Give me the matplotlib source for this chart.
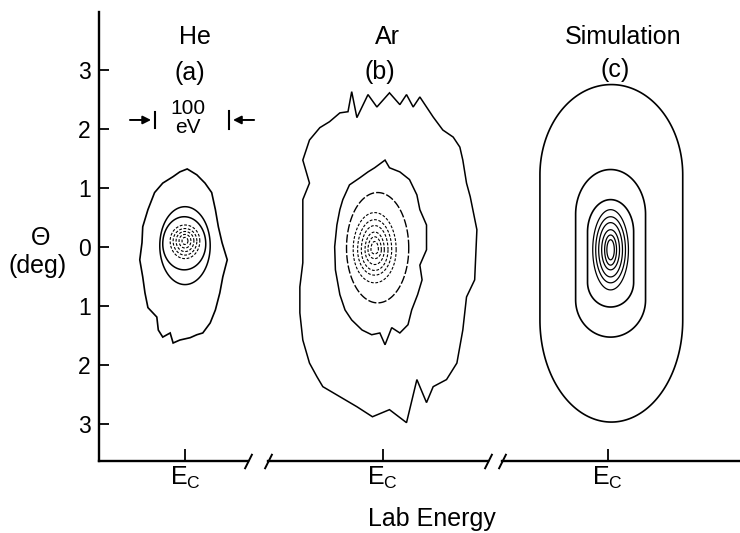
import numpy as np
import matplotlib
matplotlib.use('Agg')
import matplotlib.pyplot as plt

plt.rcParams['font.family'] = ['Liberation Sans', 'DejaVu Sans']

# ==================== data (energy in eV from E_C, angle in deg) ====================
# He, outer jagged contour
he_outer_E = [3, 16, 27, 36, 41, 45, 50, 57, 51, 47, 41, 34, 24, 16, 7, -7, -16, -20,
              -30, -36, -38, -50, -54, -57, -61, -58, -57, -50, -41, -30, -16, -7]
he_outer_th = [1.32, 1.22, 1.08, 0.92, 0.63, 0.34, 0.07, -0.22, -0.51, -0.78, -1.07, -1.29,
               -1.46, -1.49, -1.54, -1.58, -1.63, -1.46, -1.53, -1.41, -1.19, -1.03, -0.78,
               -0.51, -0.22, 0.07, 0.34, 0.63, 0.92, 1.08, 1.19, 1.27]
# rings: centre E, half width, top, top of side, bottom of side, bottom
he_rings = [(0, 34, 0.68, 0.02, 0.02, -0.64),
            (-1, 29, 0.51, 0.05, 0.05, -0.39)]
he_core = [(0, 20, 0.37, 0.10, 0.10, -0.20),
           (0, 16, 0.31, 0.10, 0.10, -0.14),
           (0, 12, 0.26, 0.10, 0.10, -0.08),
           (0, 8, 0.21, 0.10, 0.10, -0.02),
           (0, 4, 0.16, 0.10, 0.10, 0.04)]

# Ar, outer and second contours
ar_outer_E = [-99, -85, -72, -58, -47, -42, -35, -20, -8, 9, 23, 32, 41, 50, 59, 68, 81, 95,
              104, 108, 113, 118, 127, 124, 113, 108, 100, 86, 68, 59, 46, 32, 9, -14, -35,
              -58, -81, -89, -99, -108, -112, -112, -108, -108, -108, -99, -108]
ar_outer_th = [1.81, 2.02, 2.12, 2.27, 2.29, 2.63, 2.19, 2.58, 2.37, 2.61, 2.41, 2.58, 2.37,
               2.54, 2.37, 2.20, 1.98, 1.86, 1.69, 1.47, 1.08, 0.85, 0.29, -0.56, -0.85,
               -1.41, -1.97, -2.25, -2.37, -2.64, -2.25, -2.98, -2.76, -2.88, -2.71, -2.54,
               -2.37, -2.20, -1.97, -1.58, -1.12, -0.68, -0.27, 0.29, 0.80, 1.08, 1.47]
ar_mid_E = [-54, -45, -31, -20, -11, 3, 9, 23, 36, 46, 50, 59, 59, 50, 53, 47, 39, 34, 23,
            12, 3, -4, -15, -28, -42, -51, -58, -64, -65, -62, -58]
ar_mid_th = [0.80, 1.05, 1.17, 1.27, 1.34, 1.47, 1.34, 1.27, 1.14, 0.88, 0.63, 0.37, -0.05,
             -0.31, -0.56, -0.81, -1.07, -1.32, -1.46, -1.37, -1.66, -1.46, -1.49, -1.41,
             -1.24, -1.07, -0.81, -0.39, 0.0, 0.37, 0.63]
ar_rings = [(-7, 42, 0.92, -0.02, -0.02, -0.95)]
ar_core = [(-11, 29, 0.58, -0.05, -0.05, -0.61),
           (-11, 23, 0.46, -0.05, -0.05, -0.48),
           (-11, 18, 0.36, -0.05, -0.05, -0.40),
           (-11, 13, 0.25, -0.05, -0.05, -0.30),
           (-11, 9, 0.17, -0.05, -0.05, -0.20),
           (-11, 5, 0.09, -0.05, -0.05, -0.12)]

# Simulation
sim_rings = [(5, 96, 2.75, 1.22, -1.24, -2.97),
             (4, 47, 1.31, 0.55, -0.90, -1.53),
             (4, 31, 0.80, 0.25, -0.60, -1.02)]
sim_core = [(4, 24, 0.63, -0.05, -0.05, -0.73),
            (4, 20, 0.51, -0.05, -0.05, -0.61),
            (4, 16, 0.41, -0.05, -0.05, -0.51),
            (4, 12, 0.29, -0.05, -0.05, -0.39),
            (4, 8, 0.20, -0.05, -0.05, -0.31),
            (4, 5, 0.12, -0.05, -0.05, -0.22)]

yticks = [3, 2, 1, 0, -1, -2, -3]
yticklabels = ['3', '2', '1', '0', '1', '2', '3']
panel_xlim = [(-116, 85), (-155, 142), (-142, 178)]
ylim = (-3.63, 3.98)


def ring(e0, hw, top, s_top, s_bot, bot, n=120):
    t = np.linspace(0, np.pi, n)
    c, s = np.cos(t), np.sin(t)
    x = np.concatenate([e0 + hw*c, e0 - hw*c])
    y = np.concatenate([s_top + (top - s_top)*s, s_bot - (s_bot - bot)*s])
    return x, y


def draw_ring(ax, r, **kw):
    x, y = ring(*r)
    ax.fill(x, y, fill=False, ec='k', **kw)


fig = plt.figure(figsize=(7.4, 5.33), dpi=100)
W, H = 740., 533.
pos = [(99, 248), (268, 488), (502, 740)]
axes = []
for (x0, x1), xl in zip(pos, panel_xlim):
    ax = fig.add_axes([x0/W, 1-461/H, (x1-x0)/W, (461-12)/H])
    ax.set_xlim(*xl)
    ax.set_ylim(*ylim)
    for sp in ['top', 'right', 'left']:
        ax.spines[sp].set_visible(False)
    ax.spines['bottom'].set_linewidth(1.7)
    ax.set_xticks([0])
    ax.set_xticklabels([r'$\mathregular{E_C}$'], fontsize=18)
    ax.tick_params(axis='x', direction='in', length=9, width=1.3, pad=3)
    ax.set_yticks([])
    axes.append(ax)

axa, axb, axc = axes
axa.spines['left'].set_visible(True)
axa.spines['left'].set_linewidth(1.7)
axa.set_yticks(yticks)
axa.set_yticklabels(yticklabels, fontsize=16.5)
axa.tick_params(axis='y', direction='in', length=7, width=1.3, pad=6)

# break marks on the energy axis
slash = dict(marker=[(-0.5, -1), (0.5, 1)], markersize=11, linestyle='none',
             color='k', mec='k', mew=1.4, clip_on=False)
axa.plot([1], [0], transform=axa.transAxes, **slash)
axb.plot([0, 1], [0, 0], transform=axb.transAxes, **slash)
axc.plot([0], [0], transform=axc.transAxes, **slash)

# He
axa.fill(he_outer_E, he_outer_th, fill=False, ec='k', lw=1.2)
for r in he_rings:
    draw_ring(axa, r, lw=1.1)
for r in he_core:
    draw_ring(axa, r, lw=0.8, ls=(0, (2.5, 1.5)))

# Ar
axb.fill(ar_outer_E, ar_outer_th, fill=False, ec='k', lw=1.1)
axb.fill(ar_mid_E, ar_mid_th, fill=False, ec='k', lw=1.1)
for r in ar_rings:
    draw_ring(axb, r, lw=1.0, ls=(0, (6, 1.5)))
for r in ar_core:
    draw_ring(axb, r, lw=0.8, ls=(0, (2.5, 1.5)))

# Simulation
for r in sim_rings:
    draw_ring(axc, r, lw=1.2)
for r in sim_core:
    draw_ring(axc, r, lw=0.9)

# 100 eV scale marker
yb = 2.15
axa.plot([-40.5, -40.5], [yb-0.13, yb+0.13], color='k', lw=1.5, clip_on=False)
axa.plot([59.5, 59.5], [yb-0.16, yb+0.16], color='k', lw=1.5, clip_on=False)
axa.annotate('', xy=(-42, yb), xytext=(-78, yb), annotation_clip=False,
             arrowprops=dict(arrowstyle='-|>', color='k', lw=1.4, mutation_scale=12))
axa.annotate('', xy=(61, yb), xytext=(97, yb), annotation_clip=False,
             arrowprops=dict(arrowstyle='-|>', color='k', lw=1.4, mutation_scale=12))
fig.text(188/W, 1-109/H, '100', ha='center', va='center', fontsize=15)
fig.text(188/W, 1-127/H, 'eV', ha='center', va='center', fontsize=15)

# labels
fs = 18
fig.text(195/W, 1-37/H, 'He', ha='center', va='center', fontsize=fs)
fig.text(190/W, 1-73/H, '(a)', ha='center', va='center', fontsize=fs)
fig.text(387/W, 1-37/H, 'Ar', ha='center', va='center', fontsize=fs)
fig.text(380/W, 1-72/H, '(b)', ha='center', va='center', fontsize=fs)
fig.text(623/W, 1-37/H, 'Simulation', ha='center', va='center', fontsize=fs)
fig.text(615/W, 1-70/H, '(c)', ha='center', va='center', fontsize=fs)
fig.text(41/W, 1-238/H, 'Θ', ha='center', va='center', fontsize=fs)
fig.text(38/W, 1-266/H, '(deg)', ha='center', va='center', fontsize=fs)
fig.text(432/W, 1-519/H, 'Lab Energy', ha='center', va='center', fontsize=fs)

plt.savefig('out.png', dpi=100)
